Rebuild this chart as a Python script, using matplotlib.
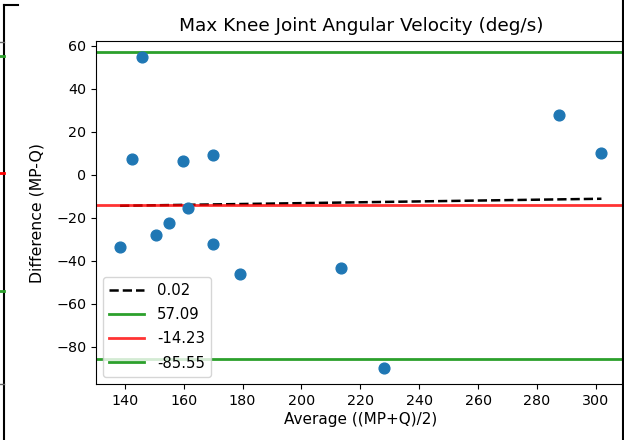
import matplotlib
matplotlib.use("Agg")
import matplotlib.pyplot as plt
from matplotlib.lines import Line2D
import numpy as np

# Data
avg_vals = [138.4, 142.6, 145.8, 150.7, 155.0, 159.9, 161.4, 170.1, 170.1,
            179.1, 213.6, 228.0, 287.6, 301.9]
diff_vals = [-33.8, 7.4, 54.9, -27.9, -22.4, 6.6, -15.5, 9.4, -32.1,
             -46.1, -43.3, -90.0, 27.7, 10.2]
fit_slope = 0.02
fit_intercept = -17.2
upper_loa = 57.09
mean_diff = -14.23
lower_loa = -85.55

title = "Max Knee Joint Angular Velocity (deg/s)"
xlabel = "Average ((MP+Q)/2)"
ylabel = "Difference (MP-Q)"

W, H = 624, 440
fig = plt.figure(figsize=(W / 100, H / 100), dpi=100)
ax = fig.add_axes([96 / W, (H - 384) / H, (625.5 - 96) / W, (384 - 41) / H])

ax.scatter(avg_vals, diff_vals, s=60, color="tab:blue", zorder=3)
xs = np.sort(np.array(avg_vals))
ax.plot(xs, fit_slope * xs + fit_intercept, "k--", lw=1.8, label=f"{fit_slope:.2f}")
ax.axhline(upper_loa, color="tab:green", lw=2, label=f"{upper_loa:.2f}")
ax.axhline(mean_diff, color="red", alpha=0.8, lw=2, label=f"{mean_diff:.2f}")
ax.axhline(lower_loa, color="tab:green", lw=2, label=f"{lower_loa:.2f}")

ax.set_xticks(np.arange(140, 301, 20))
ax.set_yticks(np.arange(-80, 61, 20))
ax.tick_params(labelsize=10.3)
ax.set_title(title, fontsize=13.3, pad=7)
ax.set_xlabel(xlabel, fontsize=11, labelpad=3)
ax.set_ylabel(ylabel, fontsize=11.3, labelpad=8)
ax.legend(loc="lower left", fontsize=10.7, handlelength=2.3, handletextpad=0.9,
          labelspacing=0.62, borderaxespad=0.5)

# screenshot frame artifacts
def fline(x0, y0, x1, y1, color="black", lw=1.5):
    fig.add_artist(Line2D([x0 / W, x1 / W], [1 - y0 / H, 1 - y1 / H],
                          transform=fig.transFigure, color=color, lw=lw))

fline(4, 5.5, 4, 440)
fline(4, 5.5, 18, 5.5)
fline(622.5, 0, 622.5, 440)
fline(0, 41.7, 4, 41.7, color="0.4", lw=1)
fline(0, 384, 4, 384, color="0.4", lw=1)
fline(0, 56, 4, 56, color="tab:green", lw=2)
fline(0, 172.7, 4, 172.7, color="red", lw=2)
fline(0, 290.7, 4, 290.7, color="tab:green", lw=2)

fig.savefig("out.png", dpi=100)
